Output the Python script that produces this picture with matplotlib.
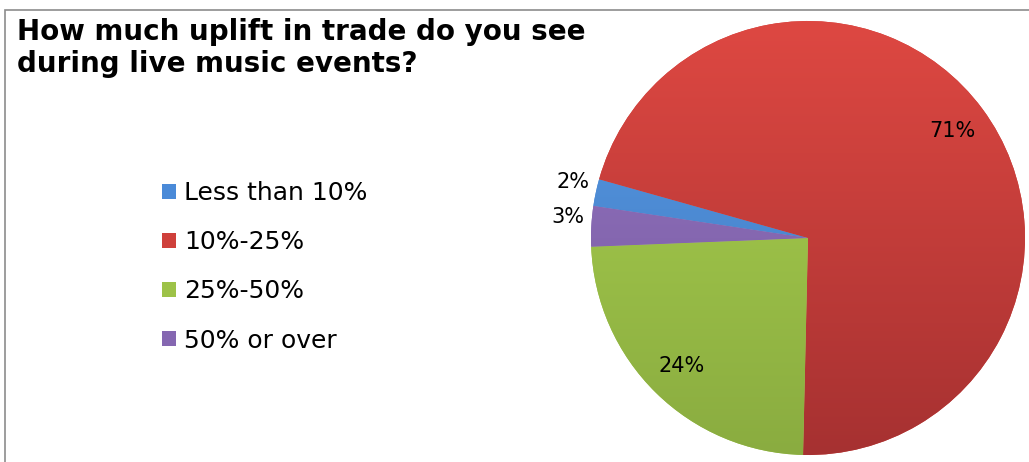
import numpy as np
import matplotlib.pyplot as plt
from matplotlib.colors import to_rgb
from matplotlib.patches import Rectangle

# Dados do gráfico
categorias = ['Less than 10%', '10%-25%', '25%-50%', '50% or over']
valores = [2, 71, 24, 3]
rotulos = ['2%', '71%', '24%', '3%']
titulo = ['How much uplift in trade do you see', 'during live music events?']

# cores (topo claro, base escura) para imitar o degradê do Excel
cores_topo = ['#5A9BE6', '#DE4842', '#ABD24F', '#9676C4']
cores_base = ['#3C76BC', '#A63131', '#8AAC40', '#74589C']
cores_meio = ['#4A8AD8', '#CF403B', '#9DC248', '#8567B1']

W, H = 1029, 462
fig = plt.figure(figsize=(W / 100, H / 100), dpi=100)

# moldura cinza
fig.add_artist(Rectangle((4.5 / W, -0.1), 1.2, (H - 10.5) / H + 0.1,
                         transform=fig.transFigure, fill=False,
                         edgecolor='#8c8c8c', linewidth=1.2))

# Título (duas linhas, linha de base em 40 px e 72 px)
for linha, base in zip(titulo, [40, 72]):
    fig.text(17 / W, 1 - base / H, linha, ha='left', va='baseline',
             fontsize=20, fontweight='bold')

# Eixo da pizza: centro (808, 238), raio 217 px
cx, cy, r = 808, 238, 217
ax = fig.add_axes([(cx - r) / W, (H - cy - r) / H, 2 * r / W, 2 * r / H])

wedges, _ = ax.pie(valores, colors=cores_meio, startangle=171.5, counterclock=False,
                   radius=1, wedgeprops=dict(linewidth=0))

grad = np.linspace(0, 1, 256)[:, None, None]
for w, ct, cb in zip(wedges, cores_topo, cores_base):
    img = np.array(to_rgb(ct)) * (1 - grad) + np.array(to_rgb(cb)) * grad
    im = ax.imshow(img, extent=(-1, 1, -1, 1), origin='upper', aspect='auto',
                   zorder=w.get_zorder() + 0.1, interpolation='bilinear')
    im.set_clip_path(w)

# Rótulos de percentagem
for w, txt in zip(wedges, rotulos):
    ang = np.deg2rad((w.theta1 + w.theta2) / 2)
    if w.theta2 - w.theta1 > 30:
        ax.text(0.83 * np.cos(ang), 0.83 * np.sin(ang), txt, ha='center', va='center',
                fontsize=15, zorder=5)
    else:
        ax.text(1.03 * np.cos(ang), 1.03 * np.sin(ang) + 0.04, txt, ha='right', va='center',
                fontsize=15, zorder=5, clip_on=False)

ax.set_xlim(-1, 1)
ax.set_ylim(-1, 1)
ax.axis('off')

# Legenda
fig.legend(wedges, categorias, loc='upper left', bbox_to_anchor=(162 / W, 1 - 181 / H),
           frameon=False, fontsize=18, handlelength=0.55, handleheight=0.55,
           handletextpad=0.35, labelspacing=1.01, borderaxespad=0, borderpad=0)

fig.savefig('out.png', dpi=100)
